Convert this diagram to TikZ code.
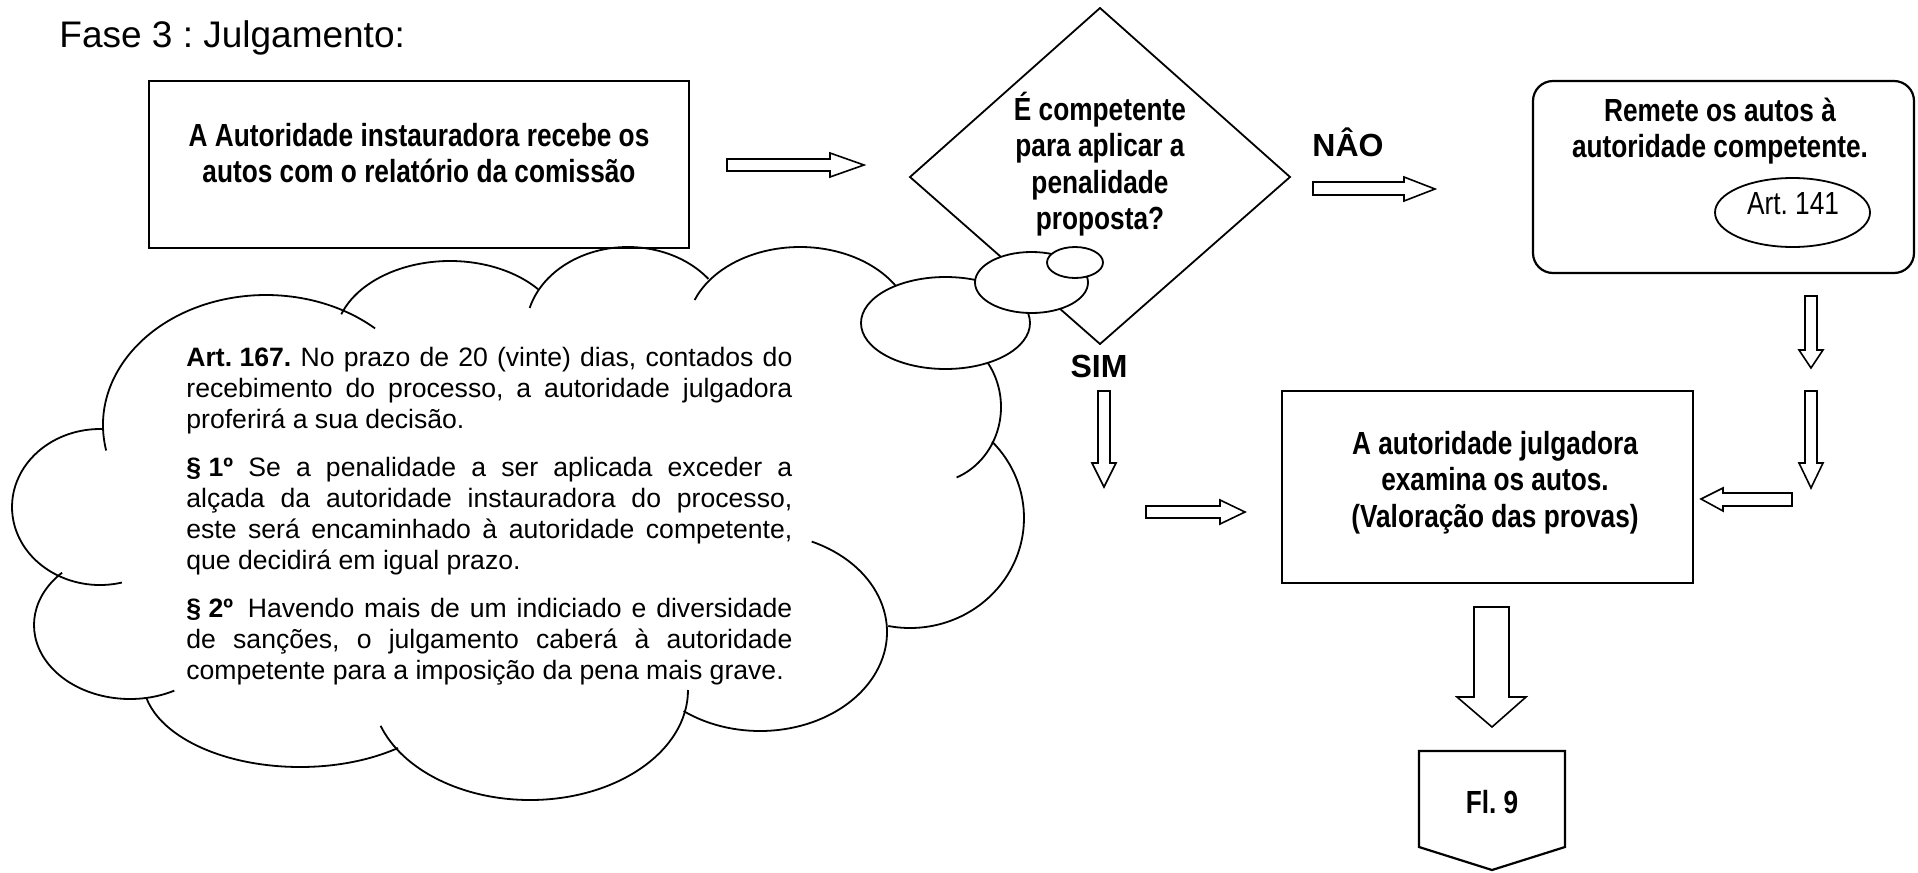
\documentclass[tikz,border=0pt]{standalone}
\usepackage{fontspec}
\setmainfont{Liberation Sans}
\newfontfamily\narrowfont{Liberation Sans}[FakeStretch=0.82]
\usepackage{tikz}
\frenchspacing

\begin{document}
\begin{tikzpicture}[x=0.5pt,y=-0.5pt,line join=miter,
	boxtext/.style={anchor=base,inner sep=0pt,font=\narrowfont\bfseries\fontsize{16pt}{18.25pt}\selectfont},
	yesno/.style={anchor=base,inner sep=0pt,font=\bfseries\fontsize{16pt}{19pt}\selectfont},
	lobe/.style={black,line width=0.9pt},
	bubble/.style={black,fill=white,line width=0.9pt},
	blockarrow/.style={black,fill=white,line width=0.8pt}]
	\fill[white] (0,0) rectangle (1918,873);
	\useasboundingbox (0,0) rectangle (1918,873);
	\node[anchor=base west,inner sep=0pt,font=\fontsize{18.5pt}{22pt}\selectfont] (titulo) at (59,47) {Fase 3 : Julgamento:};
	%
	\draw[line width=1.1pt] (149,81) rectangle (689,248);
	\node[boxtext] (instaura) at (419,146) {\parbox[t]{300pt}{\centering A Autoridade instauradora recebe os\\autos com o relatório da comissão}};
	\draw[blockarrow] (727,159) -- (830,159) -- (830,153) -- (864,165) -- (830,177) -- (830,171) -- (727,171) -- cycle;
	%
	\draw[line width=0.9pt,fill=white] (1100,8) -- (1290,177) -- (1100,344) -- (910,177) -- cycle;
	\node[boxtext] (pergunta) at (1100,120) {\parbox[t]{200pt}{\centering É competente\\para aplicar a\\penalidade\\proposta?}};
	%
	% nuvem: arcos de elipse (centro, raios, angulos)
	\draw[lobe] (266,425) ++(168.7:163 and 130) arc[start angle=168.7,end angle=312,x radius=163,y radius=130];
	\draw[lobe] (450,340) ++(199:115 and 79) arc[start angle=199,end angle=320,x radius=115,y radius=79];
	\draw[lobe] (628,330) ++(195.4:102 and 83) arc[start angle=195.4,end angle=322,x radius=102,y radius=83];
	\draw[lobe] (800,330) ++(201.2:113 and 83) arc[start angle=201.2,end angle=355,x radius=113,y radius=83];
	\draw[lobe] (930,407) ++(-60:71 and 76) arc[start angle=-60,end angle=68,x radius=71,y radius=76];
	\draw[lobe] (910,518) ++(-44:114 and 110) arc[start angle=-44,end angle=101,x radius=114,y radius=110];
	\draw[lobe] (760,632) ++(-66:127 and 99) arc[start angle=-66,end angle=127,x radius=127,y radius=99];
	\draw[lobe] (530,690) ++(0:158 and 110) arc[start angle=0,end angle=161,x radius=158,y radius=110];
	\draw[lobe] (300,680) ++(51.4:157 and 87) arc[start angle=51.4,end angle=168,x radius=157,y radius=87];
	\draw[lobe] (130,625) ++(62.5:96 and 74) arc[start angle=62.5,end angle=225,x radius=96,y radius=74];
	\draw[lobe] (100,507) ++(75.6:88 and 78) arc[start angle=75.6,end angle=272,x radius=88,y radius=78];
	\draw[bubble] (945.5,323) ellipse [x radius=84.5,y radius=46];
	\draw[bubble] (1031.5,282.5) ellipse [x radius=56.5,y radius=30.5];
	\draw[bubble] (1075,262.5) ellipse [x radius=28,y radius=15.5];
	%
	\node[anchor=base west,inner sep=0pt,font=\fontsize{13.3pt}{15.5pt}\selectfont] (art167) at (186,366) {\parbox[t]{303pt}{%
		\makebox[\linewidth][s]{\mbox{\textbf{Art. 167.}} No prazo de 20 (vinte) dias, contados do}\\
		\makebox[\linewidth][s]{recebimento do processo, a autoridade julgadora}\\
		proferirá a sua decisão.\\[8.5pt]
		\makebox[\linewidth][s]{\mbox{\textbf{§ 1º}} Se a penalidade a ser aplicada exceder a}\\
		\makebox[\linewidth][s]{alçada da autoridade instauradora do processo,}\\
		\makebox[\linewidth][s]{este será encaminhado à autoridade competente,}\\
		que decidirá em igual prazo.\\[8.5pt]
		\makebox[\linewidth][s]{\mbox{\textbf{§ 2º}\ \ }Havendo mais de um indiciado e diversidade}\\
		\makebox[\linewidth][s]{de sanções, o julgamento caberá à autoridade}\\
		competente para a imposição da pena mais grave.}};
	%
	\node[yesno] (nao) at (1348,156) {NÂO};
	\draw[blockarrow] (1313,182) -- (1404,182) -- (1404,177) -- (1435,189) -- (1404,201) -- (1404,195) -- (1313,195) -- cycle;
	\draw[line width=1.1pt,rounded corners=10pt] (1533,81) rectangle (1914,273);
	\node[boxtext] (remete) at (1720,121) {\parbox[t]{200pt}{\centering Remete os autos à\\autoridade competente.}};
	\draw[line width=0.9pt] (1792.5,212.5) ellipse [x radius=77.5,y radius=34.5];
	\node[anchor=base,inner sep=0pt,font=\narrowfont\fontsize{16pt}{19pt}\selectfont] (art141) at (1793,214) {Art. 141};
	%
	\draw[blockarrow] (1805,296) -- (1805,350) -- (1799,350) -- (1811,368) -- (1823,350) -- (1817,350) -- (1817,296) -- cycle;
	\draw[blockarrow] (1805,391) -- (1805,463) -- (1799,463) -- (1811,488) -- (1823,463) -- (1817,463) -- (1817,391) -- cycle;
	\draw[blockarrow] (1792,493) -- (1723,493) -- (1723,488) -- (1701,499) -- (1723,511) -- (1723,506) -- (1792,506) -- cycle;
	%
	\node[yesno] (sim) at (1099,377) {SIM};
	\draw[blockarrow] (1098,391) -- (1098,463) -- (1092,463) -- (1104,487) -- (1116,463) -- (1110,463) -- (1110,391) -- cycle;
	\draw[blockarrow] (1146,506) -- (1220,506) -- (1220,500) -- (1245,512) -- (1220,524) -- (1220,518) -- (1146,518) -- cycle;
	%
	\draw[line width=1.1pt] (1282,391) rectangle (1693,583);
	\node[boxtext] (julga) at (1495,454) {\parbox[t]{240pt}{\centering A autoridade julgadora\\examina os autos.\\(Valoração das provas)}};
	\draw[blockarrow] (1474,607) -- (1474,697) -- (1457,697) -- (1492,727) -- (1526,697) -- (1509,697) -- (1509,607) -- cycle;
	%
	\draw[line width=1.1pt] (1419,751) -- (1565,751) -- (1565,847) -- (1492,870) -- (1419,847) -- cycle;
	\node[boxtext] (fl9) at (1492,813) {Fl. 9};
\end{tikzpicture}
\end{document}
